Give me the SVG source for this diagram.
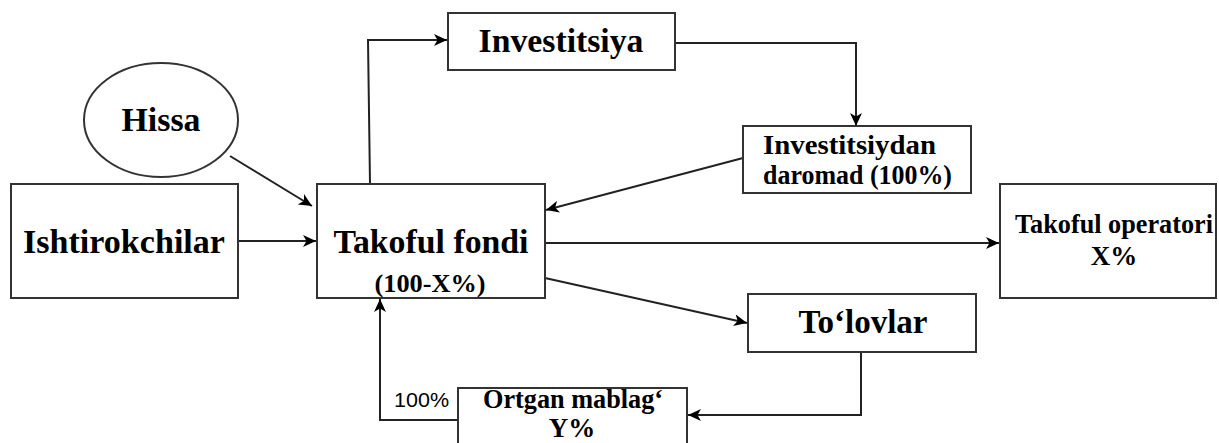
<svg xmlns="http://www.w3.org/2000/svg" width="1219" height="443" viewBox="0 0 1219 443">
<style>
.box{fill:#fff;stroke:#333;stroke-width:2}
.t{font-family:"Liberation Serif","Times New Roman",serif;font-weight:bold;fill:#000;text-anchor:middle}
.s{font-family:"Liberation Sans",Arial,sans-serif;fill:#000}
.c{fill:none;stroke:#222;stroke-width:2;marker-end:url(#ah)}
</style>
<defs>
<marker id="ah" markerUnits="userSpaceOnUse" markerWidth="14" markerHeight="12" refX="13" refY="6" orient="auto">
<path d="M0,0 L13,6 L0,12 L3.5,6 Z" fill="#000"/>
</marker>
</defs>
<rect width="1219" height="443" fill="#fff"/>
<g id="connectors">
<path class="c" d="M230,156 L312,206"/>
<path class="c" d="M238,241 L316,241"/>
<path class="c" d="M370,184 L368,40 L447,40"/>
<path class="c" d="M675,43 L856,43 L856,126"/>
<path class="c" d="M743,158 L546,210"/>
<path class="c" d="M545,243 L999,243"/>
<path class="c" d="M545,278 L747,323"/>
<path class="c" d="M861,352 L861,415 L688,415"/>
<path class="c" d="M458,420 L380,420 L380,299"/>
</g>
<g id="hissa">
<ellipse cx="161" cy="120" rx="77" ry="57" class="box"/>
<text class="t" x="161" y="131" font-size="34" textLength="79" lengthAdjust="spacingAndGlyphs">Hissa</text>
</g>
<g id="ishtirokchilar">
<rect class="box" x="11" y="184" width="227" height="114"/>
<text class="t" x="124" y="253" font-size="34" textLength="202" lengthAdjust="spacingAndGlyphs">Ishtirokchilar</text>
</g>
<g id="takoful-fondi">
<rect class="box" x="317" y="184" width="228" height="114"/>
<text class="t" x="431" y="253" font-size="34" textLength="195" lengthAdjust="spacingAndGlyphs">Takoful fondi</text>
<text class="t" x="430" y="292" font-size="26" textLength="111" lengthAdjust="spacingAndGlyphs">(100-X%)</text>
</g>
<g id="investitsiya">
<rect class="box" x="448" y="13" width="227" height="57"/>
<text class="t" x="561" y="52" font-size="34" textLength="165" lengthAdjust="spacingAndGlyphs">Investitsiya</text>
</g>
<g id="daromad">
<rect class="box" x="743" y="126" width="228" height="67"/>
<text class="t" x="849.5" y="154" font-size="28" textLength="173" lengthAdjust="spacingAndGlyphs">Investitsiydan</text>
<text class="t" x="857.5" y="184" font-size="28" textLength="189" lengthAdjust="spacingAndGlyphs">daromad (100%)</text>
</g>
<g id="takoful-operatori">
<rect class="box" x="1000" y="184" width="216" height="114"/>
<text class="t" x="1114" y="233" font-size="27" textLength="198" lengthAdjust="spacingAndGlyphs">Takoful operatori</text>
<text class="t" x="1114" y="265" font-size="27">X%</text>
</g>
<g id="tolovlar">
<rect class="box" x="748" y="294" width="228" height="58"/>
<text class="t" x="863" y="333" font-size="33" textLength="129" lengthAdjust="spacingAndGlyphs">To‘lovlar</text>
</g>
<g id="ortgan-mablag">
<rect class="box" x="458" y="388" width="229" height="70"/>
<text class="t" x="573" y="408" font-size="27" textLength="180" lengthAdjust="spacingAndGlyphs">Ortgan mablag‘</text>
<text class="t" x="572" y="437" font-size="27">Y%</text>
</g>
<g id="label-100">
<text class="s" x="394" y="407" font-size="20" textLength="55" lengthAdjust="spacingAndGlyphs">100%</text>
</g>
</svg>
